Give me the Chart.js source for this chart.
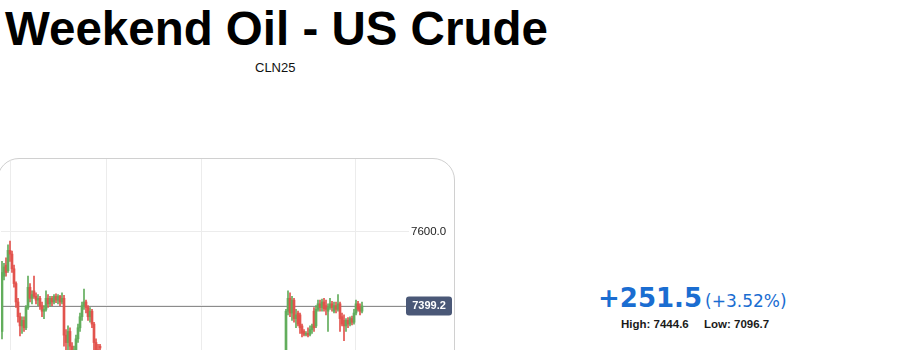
<!DOCTYPE html>
<html>
<head>
<meta charset="utf-8">
<script src="https://cdn.jsdelivr.net/npm/chart.js@4.4.1/dist/chart.umd.min.js"></script>
<style>
  body { margin: 0; background: #fff; }
  .page { position: relative; width: 897px; height: 350px; overflow: hidden; }
  .title { position: absolute; left: 5px; top: 1px; font: bold 47.5px "Liberation Sans", Arial, sans-serif; color: #000; white-space: nowrap; }
  .symbol { position: absolute; left: 255px; top: 60px; font: 13px "Liberation Sans", Arial, sans-serif; color: #111; }
  .card { position: absolute; left: -3px; top: 158px; width: 456px; height: 260px; border: 1px solid #d0d0d0; border-radius: 22px; overflow: hidden; }
  .card canvas { position: absolute; left: 3px; top: 0; }
  .change { position: absolute; left: 598px; top: 283px; color: #1a6dd1; white-space: nowrap; }
  .change .big { font: bold 26px "DejaVu Sans", sans-serif; }
  .change .pct { font: 17px "DejaVu Sans", sans-serif; margin-left: 3px; }
  .hl { position: absolute; top: 318px; font: bold 11.5px "Liberation Sans", Arial, sans-serif; color: #1a1a1a; }
</style>
</head>
<body>
<div class="page">
  <div class="title">Weekend Oil - US Crude</div>
  <div class="symbol">CLN25</div>
  <div class="card"><canvas id="myChart" width="452" height="220"></canvas></div>
  <div class="change"><span class="big">+251.5</span><span class="pct">(+3.52%)</span></div>
  <div class="hl" style="left:621px">High: 7444.6</div>
  <div class="hl" style="left:704px">Low: 7096.7</div>
</div>
<script>
// two trading blocks, slot = bar position on the time axis
const sessionStart = [0, 142];
const sessionLength = [50, 39];

const opens = [
  7330, 7480, 7510, 7495, 7550, 7540, 7500, 7460, 7410, 7370,
  7345, 7360, 7340, 7395, 7450, 7420, 7440, 7425, 7415, 7420,
  7400, 7385, 7390, 7420, 7405, 7420, 7410, 7425, 7415, 7425,
  7410, 7420, 7320, 7300, 7330, 7290, 7270, 7280, 7310, 7340,
  7370, 7400, 7410, 7395, 7370, 7385, 7350, 7300, 7280, 7290,
  7280, 7385, 7420, 7380, 7415, 7365, 7380, 7375, 7345, 7330,
  7322, 7325, 7322, 7335, 7385, 7345, 7390, 7405, 7395, 7410,
  7400, 7385, 7395, 7405, 7385, 7400, 7390, 7405, 7370, 7360,
  7345, 7360, 7350, 7365, 7355, 7380, 7405, 7395, 7385
];
const highs = [
  7520, 7515, 7530, 7565, 7575, 7548, 7510, 7465, 7420, 7380,
  7370, 7370, 7400, 7480, 7460, 7440, 7480, 7435, 7430, 7425,
  7410, 7400, 7440, 7430, 7425, 7425, 7430, 7432, 7430, 7428,
  7435, 7428, 7335, 7345, 7340, 7300, 7290, 7320, 7350, 7380,
  7410, 7445, 7415, 7400, 7395, 7390, 7355, 7310, 7295, 7295,
  7390, 7440, 7435, 7425, 7420, 7390, 7385, 7380, 7350, 7335,
  7330, 7340, 7345, 7350, 7395, 7400, 7415, 7415, 7418, 7420,
  7415, 7405, 7420, 7412, 7410, 7410, 7430, 7410, 7380, 7375,
  7365, 7368, 7370, 7372, 7390, 7415, 7412, 7405, 7410
];
const lows = [
  7310, 7470, 7480, 7490, 7520, 7490, 7450, 7395, 7355, 7318,
  7325, 7330, 7335, 7390, 7410, 7405, 7420, 7405, 7400, 7390,
  7370, 7365, 7385, 7395, 7398, 7400, 7405, 7408, 7405, 7400,
  7405, 7290, 7270, 7280, 7260, 7250, 7250, 7270, 7300, 7330,
  7360, 7390, 7380, 7360, 7355, 7340, 7280, 7240, 7255, 7280,
  7250, 7375, 7370, 7360, 7355, 7340, 7345, 7325, 7315, 7318,
  7318, 7315, 7318, 7325, 7330, 7340, 7385, 7385, 7385, 7385,
  7375, 7330, 7390, 7385, 7380, 7380, 7385, 7330, 7345, 7305,
  7330, 7340, 7345, 7348, 7350, 7375, 7385, 7375, 7380
];
const closes = [
  7490, 7505, 7490, 7550, 7540, 7500, 7460, 7410, 7370, 7345,
  7360, 7340, 7395, 7450, 7420, 7430, 7425, 7415, 7420, 7400,
  7385, 7390, 7420, 7405, 7420, 7410, 7425, 7415, 7425, 7410,
  7420, 7320, 7300, 7330, 7290, 7270, 7280, 7310, 7340, 7370,
  7400, 7410, 7395, 7370, 7385, 7350, 7300, 7260, 7270, 7285,
  7385, 7420, 7380, 7415, 7365, 7375, 7350, 7340, 7325, 7322,
  7325, 7320, 7335, 7345, 7340, 7390, 7405, 7395, 7410, 7392,
  7390, 7395, 7405, 7395, 7400, 7390, 7405, 7365, 7350, 7345,
  7360, 7350, 7365, 7355, 7380, 7405, 7390, 7385, 7399.2
];
const lastPrice = 7399.2;
const yTicks = [7400, 7600];
const xGridSlots = [4.5, 52.5, 100.5, 177];

const upColor = "#62ad5c";
const downColor = "#e2534d";

let slots = [];
for (let s = 0; s < sessionStart.length; s++) {
  for (let k = 0; k < sessionLength[s]; k++) slots.push(sessionStart[s] + k + 0.5);
}

const wicks = slots.map((x, i) => ({ x: x, y: [lows[i], highs[i]] }));
const bodies = slots.map((x, i) => ({ x: x, y: [opens[i], closes[i]] }));
const colors = opens.map((o, i) => (closes[i] >= o ? upColor : downColor));

const priceLine = {
  id: "priceLine",
  beforeDatasetsDraw(chart) {
    const { ctx, chartArea } = chart;
    const y = Math.round(chart.scales.y.getPixelForValue(lastPrice)) + 0.5;
    ctx.save();
    ctx.strokeStyle = "#8c8c8c";
    ctx.lineWidth = 1;
    ctx.beginPath();
    ctx.moveTo(chartArea.left, y);
    ctx.lineTo(chartArea.right + 5, y);
    ctx.stroke();
    ctx.restore();
  },
  afterDraw(chart) {
    const { ctx, chartArea } = chart;
    const y = chart.scales.y.getPixelForValue(lastPrice);
    const x = chartArea.right + 5;
    ctx.save();
    ctx.fillStyle = "#4a5877";
    ctx.beginPath();
    ctx.roundRect(x, y - 9.5, 46, 19, 3);
    ctx.fill();
    ctx.fillStyle = "#fff";
    ctx.font = "bold 11px 'Liberation Sans', Arial, sans-serif";
    ctx.textAlign = "center";
    ctx.textBaseline = "middle";
    ctx.fillText(lastPrice.toFixed(1), x + 23, y + 0.5);
    ctx.restore();
  },
};

new Chart(document.getElementById("myChart"), {
  type: "bar",
  data: {
    datasets: [
      { data: wicks, backgroundColor: colors, barThickness: 1, order: 2 },
      { data: bodies, backgroundColor: colors, barThickness: 2, minBarLength: 1, order: 1 },
    ],
  },
  options: {
    responsive: false,
    animation: false,
    layout: { padding: 0 },
    plugins: { legend: { display: false }, tooltip: { enabled: false } },
    datasets: { bar: { grouped: false } },
    scales: {
      x: {
        type: "linear",
        min: 0,
        max: 200,
        offset: false,
        afterBuildTicks: (s) => { s.ticks = xGridSlots.map((v) => ({ value: v })); },
        afterFit: (s) => { s.height = 0; },
        ticks: { display: false },
        border: { display: false },
        grid: { color: "#ececec", drawTicks: false, offset: false },
      },
      y: {
        position: "right",
        min: 7201,
        max: 7798,
        afterBuildTicks: (s) => { s.ticks = yTicks.map((v) => ({ value: v })); },
        afterFit: (s) => { s.width = 52; s.paddingTop = 0; s.paddingBottom = 0; },
        border: { display: false },
        grid: { color: "#ececec", tickLength: 8 },
        ticks: {
          padding: 2,
          color: "#222",
          font: { family: "'Liberation Sans', Arial, sans-serif", size: 11.5 },
          callback: (v) => v.toFixed(1),
        },
      },
    },
  },
  plugins: [priceLine],
});
</script>
</body>
</html>
